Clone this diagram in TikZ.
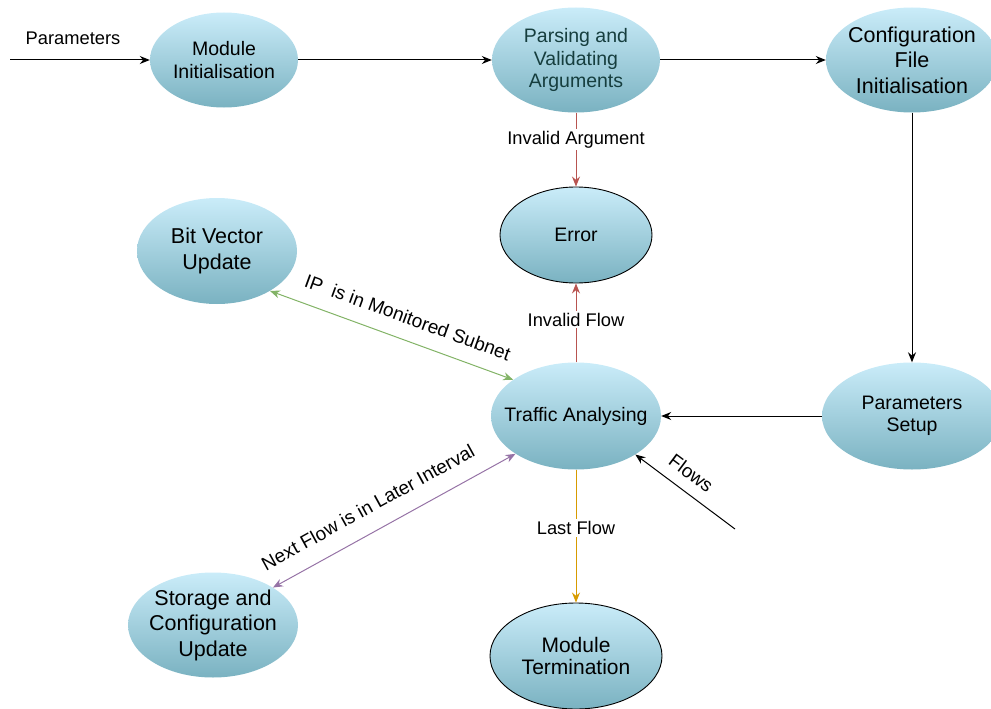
\documentclass[tikz,border=0pt]{standalone}
\usepackage{fontspec}
\setmainfont{Liberation Sans}
\usetikzlibrary{shapes.geometric,arrows.meta}
\definecolor{topc}{RGB}{202,236,249}
\definecolor{botc}{RGB}{122,178,193}
\definecolor{redl}{RGB}{184,84,80}
\definecolor{greenl}{RGB}{130,179,102}
\definecolor{purplel}{RGB}{150,115,166}
\definecolor{orangel}{RGB}{215,155,0}
\definecolor{parsetext}{RGB}{22,62,62}
\tikzset{
  nd/.style={ellipse, top color=topc, bottom color=botc, draw=none, inner xsep=-25pt, inner ysep=-12pt, align=center, text=black},
  bordered/.style={draw=black, line width=0.9pt},
  fA/.style={font=\fontsize{19.5}{22.5}\selectfont},
  fB/.style={font=\fontsize{21.5}{25.5}\selectfont},
  fC/.style={font=\fontsize{21}{22.5}\selectfont},
  arr/.style={-{Stealth[length=10pt,width=8pt]}, line width=1pt, black},
  dbl/.style={{Stealth[length=10pt,width=8pt]}-{Stealth[length=10pt,width=8pt]}, line width=1pt},
  lbl/.style={font=\fontsize{18.3}{21}\selectfont, fill=white, inner sep=2pt, text=black},
  tlbl/.style={font=\fontsize{18.3}{21}\selectfont, inner sep=1pt, text=black},
  slbl/.style={font=\fontsize{19}{22}\selectfont, inner sep=1pt, text=black, sloped}
}
\begin{document}
\begin{tikzpicture}[x=1pt,y=-1pt]
\useasboundingbox (0,0) rectangle (991,709);
\clip (0,0) rectangle (991,709);
% nodes
\node[nd,fA,minimum width=148pt,minimum height=95pt] (mi) at (224,60) {Module\\Initialisation};
\node[nd,fA,minimum width=168pt,minimum height=105pt,text=parsetext] (pv) at (576,60) {Parsing and\\Validating\\Arguments};
\node[nd,fB,minimum width=172pt,minimum height=105pt] (cf) at (912,60) {Configuration\\File\\Initialisation};
\node[nd,bordered,fA,minimum width=152pt,minimum height=96pt] (err) at (576,235) {Error};
\node[nd,fB,minimum width=160pt,minimum height=106pt] (bv) at (217,251) {Bit Vector\\Update};
\node[nd,fA,minimum width=170pt,minimum height=107pt] (ta) at (576,416) {Traffic Analysing};
\node[nd,fA,minimum width=180pt,minimum height=107pt] (ps) at (912,416) {Parameters\\Setup};
\node[nd,fB,minimum width=170pt,minimum height=105pt] (st) at (213,625) {Storage and\\Configuration\\Update};
\node[nd,bordered,fC,minimum width=172pt,minimum height=106pt] (mt) at (576,656) {Module\\Termination};
% connectors
\coordinate (in) at (10,60);
\coordinate (fl) at (735,529);
\draw[arr] (in) -- (mi.west);
\node[tlbl] (plbl) at (73,38) {Parameters};
\draw[arr] (mi) -- (pv);
\draw[arr] (pv) -- (cf);
\draw[arr] (cf) -- (ps);
\draw[arr] (ps) -- (ta);
\draw[arr,redl] (pv) -- node[lbl,pos=0.36] {Invalid Argument} (err);
\draw[arr,redl] (ta) -- node[lbl,pos=0.54] {Invalid Flow} (err);
\draw[arr,orangel] (ta) -- node[lbl,pos=0.44] {Last Flow} (mt);
\draw[dbl,greenl] (bv.-37) -- node[slbl,above=14pt,pos=0.535] {IP\ \ is in Monitored Subnet} (ta.150);
\draw[dbl,purplel] (st.32) -- node[slbl,above=16pt,pos=0.44] {Next Flow is in Later Interval} (ta.212);
\draw[arr] (fl) -- node[slbl,above=10pt,pos=0.55] {Flows} (ta.-33);
\end{tikzpicture}
\end{document}
